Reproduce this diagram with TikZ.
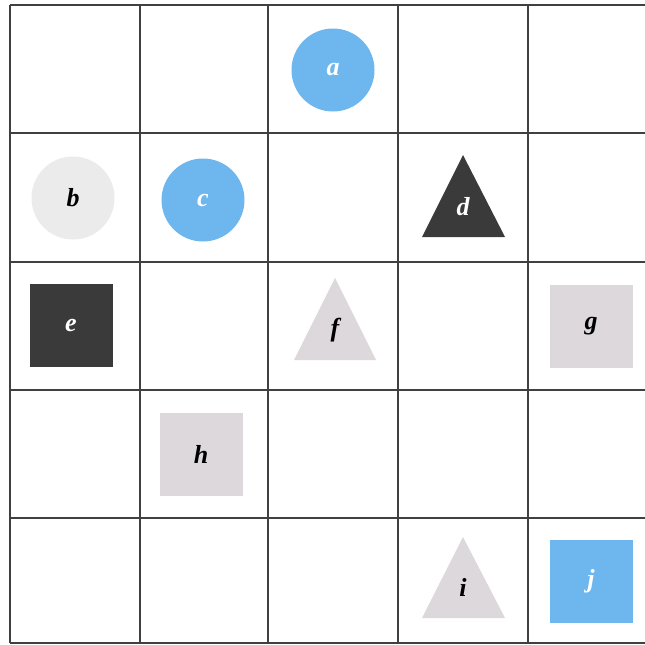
\documentclass[tikz,border=0pt]{standalone}
\usepackage{fontspec}
\setmainfont{Liberation Serif}
\usetikzlibrary{shapes.geometric}
\definecolor{skyb}{HTML}{6DB6EE}
\definecolor{pale}{HTML}{ECEBEC}
\definecolor{lgray}{HTML}{DCD8DC}
\definecolor{dgray}{HTML}{3A3A3A}
\definecolor{gridc}{HTML}{404040}
\begin{document}
\begin{tikzpicture}[x=1pt,y=-1pt,
  lblfont/.style={font=\fontsize{26}{30}\selectfont\bfseries\itshape},
  gridline/.style={draw=gridc,line width=2pt},
  lbl/.style={lblfont,inner sep=0pt},
  disc/.style={circle,minimum size=83pt,inner sep=0pt,lblfont},
  sq/.style={rectangle,minimum size=83pt,inner sep=0pt,lblfont}]
\useasboundingbox (0,0) rectangle (645,645);
\fill[white] (0,0) rectangle (645,645);
% grid
\foreach \y in {5,133,262,390,518,643} \draw[gridline] (10,\y) -- (645,\y);
\foreach \x in {10,140,268,398,528} \draw[gridline] (\x,5) -- (\x,643);
% circles
\node[disc,fill=skyb,text=white] (a) at (333,70) {a};
\node[disc,fill=pale,text=black] (b) at (73,198) {b};
\node[disc,fill=skyb,text=white] (c) at (203,200) {c};
% squares
\node[sq,fill=dgray,text=white] (e) at (71,325) {e};
\node[sq,fill=lgray,text=black] (g) at (591,326) {g};
\node[sq,fill=lgray,text=black] (h) at (201,454) {h};
\node[sq,fill=skyb,text=white] (j) at (591,581) {j};
% triangles
\fill[dgray] (463,155) -- (505,237) -- (422,237) -- cycle;
\node[lbl,text=white] (d) at (463,207) {d};
\fill[lgray] (335,278) -- (376,360) -- (294,360) -- cycle;
\node[lbl,text=black] (f) at (335,330) {f};
\fill[lgray] (463,537) -- (505,618) -- (422,618) -- cycle;
\node[lbl,text=black] (i) at (463,587) {i};
\end{tikzpicture}
\end{document}
